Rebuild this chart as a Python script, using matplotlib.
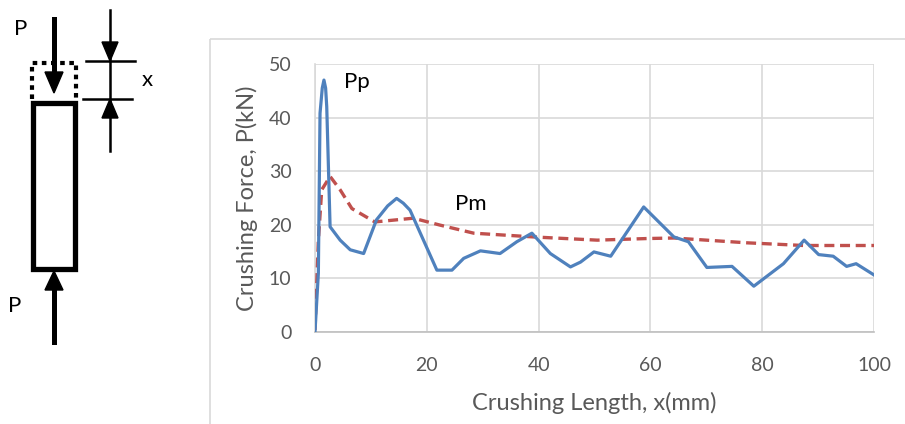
import matplotlib.pyplot as plt
from matplotlib.patches import Rectangle, Polygon
import numpy as np

plt.rcParams["font.family"] = ["Lato", "DejaVu Sans"]

# crushing force curve (blue)
x_force = [0, 0.6, 0.9, 1.3, 1.6, 1.9, 2.1, 2.7, 4.5, 6.3, 8.7, 11.0, 13.0, 14.6, 15.8, 17.0,
           19.4, 21.8, 24.5, 26.6, 29.6, 33.1, 36.1, 38.8, 42.1, 45.7, 47.5, 49.9, 52.9,
           58.8, 64.2, 66.8, 70.1, 74.6, 78.5, 83.8, 87.5, 90.1, 92.7, 95.1, 96.8, 100]
p_force = [0, 10.9, 40.8, 45.5, 47.0, 45.5, 42.0, 19.6, 17.1, 15.3, 14.6, 20.9, 23.5, 24.9,
           24.0, 22.7, 17.1, 11.5, 11.5, 13.7, 15.1, 14.6, 16.8, 18.4, 14.6, 12.1, 13.0,
           14.9, 14.1, 23.3, 17.7, 16.8, 12.0, 12.2, 8.5, 12.7, 17.1, 14.4, 14.1, 12.2,
           12.7, 10.6]

# mean force curve (red dashed)
x_mean = [0, 0.6, 1.2, 2.7, 4.5, 6.6, 10.7, 17.6, 22.4, 28.4, 39.1, 50.5, 59.4, 64.2,
          77.3, 87.4, 100]
p_mean = [0.3, 17.0, 26.5, 29.0, 26.5, 23.0, 20.5, 21.2, 19.9, 18.4, 17.7, 17.1, 17.4, 17.5,
          16.6, 16.1, 16.1]

x_ticks = [0, 20, 40, 60, 80, 100]
y_ticks = [0, 10, 20, 30, 40, 50]

W, H = 905, 424
fig = plt.figure(figsize=(W / 100, H / 100), dpi=100)

# overlay axes in pixel coordinates for the frame and the sketch
ov = fig.add_axes([0, 0, 1, 1])
ov.set_xlim(0, W)
ov.set_ylim(H, 0)
ov.axis("off")

# chart frame
ov.add_patch(Rectangle((210, 39), 720, 400, fill=False, ec="#d9d9d9", lw=1.2))

# specimen sketch
ov.add_patch(Rectangle((33, 102.5), 41.5, 166, fill=False, ec="black", lw=3.8))
ov.plot([31.5, 31.5, 75.5, 75.5], [99, 62.5, 62.5, 99], color="black", lw=3,
        linestyle=(0, (1.1, 1.1)))
# top load arrow
ov.plot([54, 54], [19, 75], color="black", lw=3.6)
ov.add_patch(Polygon([[45, 72], [63, 72], [54, 93]], color="black"))
# bottom load arrow
ov.plot([54, 54], [342, 288], color="black", lw=3.6)
ov.add_patch(Polygon([[45, 290], [63, 290], [54, 271]], color="black"))
# dimension x
ov.plot([110, 110], [10, 151], color="black", lw=1.8)
ov.plot([86, 135], [61, 61], color="black", lw=1.8)
ov.plot([83, 132], [99, 99], color="black", lw=1.8)
ov.add_patch(Polygon([[102, 42], [118, 42], [110, 61]], color="black"))
ov.add_patch(Polygon([[102, 118], [118, 118], [110, 99]], color="black"))
ov.text(21, 29, "P", fontsize=16, ha="center", va="center")
ov.text(15, 306, "P", fontsize=16, ha="center", va="center")
ov.text(147, 80, "x", fontsize=16, ha="center", va="center")

# main chart
ax = fig.add_axes([315 / W, (H - 331.7) / H, (874 - 315) / W, (331.7 - 64) / H])
ax.plot(x_mean, p_mean, color="#c0504d", lw=2.4, linestyle=(0, (3, 1.7)), zorder=3)
ax.plot(x_force, p_force, color="#4f81bd", lw=2.3, zorder=4)
ax.set_xlim(0, 100)
ax.set_ylim(0, 50)
ax.set_xticks(x_ticks)
ax.set_yticks(y_ticks)
ax.grid(True, color="#d9d9d9", lw=1.2)
ax.set_axisbelow(True)
for s in ["top", "right"]:
    ax.spines[s].set_visible(False)
ax.spines["left"].set_color("#d9d9d9")
ax.spines["bottom"].set_color("#bfbfbf")
ax.spines["left"].set_linewidth(1.2)
ax.spines["bottom"].set_linewidth(1.2)
ax.tick_params(length=0, labelsize=14, colors="#595959")
ax.tick_params(axis="x", pad=18)
ax.tick_params(axis="y", pad=17)
ax.set_xlabel("Crushing Length, x(mm)", fontsize=17, color="#595959", labelpad=13)
ax.set_ylabel("Crushing Force, P(kN)", fontsize=17, color="#595959", labelpad=8)
ax.text(5.2, 45.5, "Pp", fontsize=16, ha="left", va="baseline")
ax.text(25.0, 22.7, "Pm", fontsize=16, ha="left", va="baseline")

fig.savefig("out.png", dpi=100)
